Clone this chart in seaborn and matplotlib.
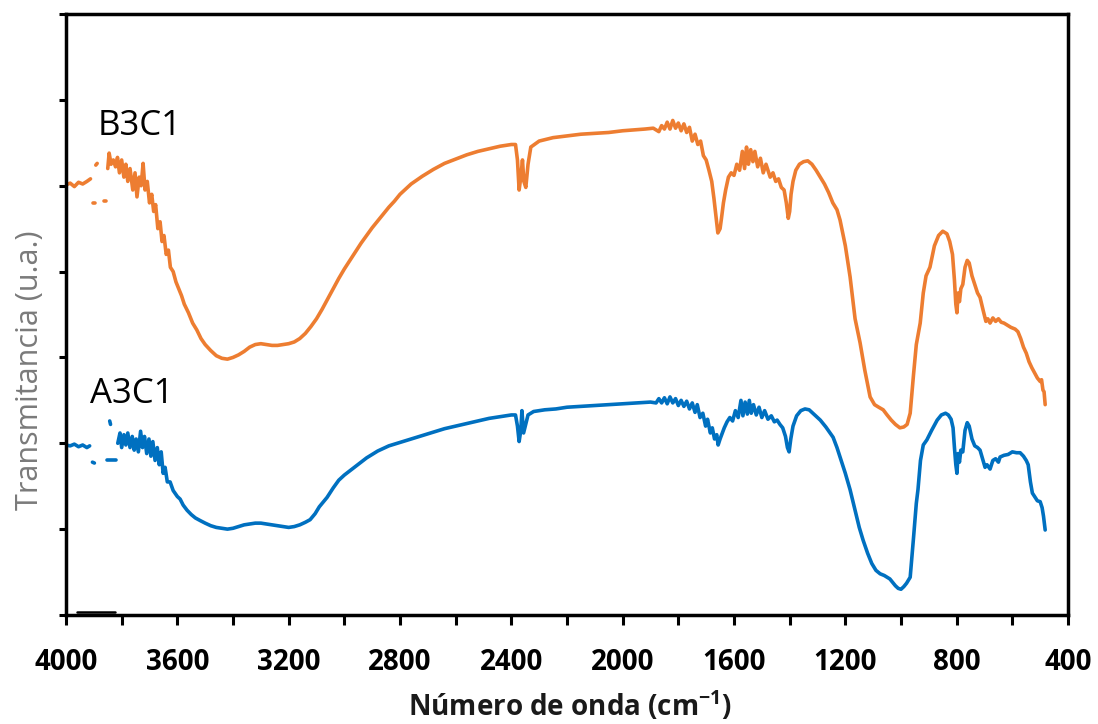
import numpy as np
import pandas as pd
import matplotlib
matplotlib.use("Agg")
import matplotlib.pyplot as plt
import seaborn as sns

# ---------------- data ----------------
# B3C1 (orange) -- segments separated by gaps in the recorded trace
b3c1_seg1_x = [4000, 3985, 3970, 3955, 3940, 3925, 3912]
b3c1_seg1_y = [5.01, 5.03, 4.99, 5.04, 5.02, 5.05, 5.08]
b3c1_seg2_x = [3902, 3896]
b3c1_seg2_y = [4.80, 4.80]
b3c1_seg3_x = [3893, 3888]
b3c1_seg3_y = [5.24, 5.26]
b3c1_seg4_x = [3864, 3858]
b3c1_seg4_y = [4.82, 4.82]
b3c1_main_x = [3850, 3845, 3838, 3830, 3822, 3815, 3808, 3800, 3792, 3785, 3778, 3770,
               3760, 3752, 3745, 3737, 3730, 3723, 3716, 3708, 3700, 3692, 3685, 3678,
               3670, 3662, 3655, 3648, 3640, 3632, 3625, 3615, 3605, 3595, 3585, 3575,
               3560, 3545, 3530, 3515, 3500, 3480, 3460, 3440, 3420, 3400, 3380, 3360,
               3340, 3320, 3300, 3280, 3260, 3240, 3220, 3200, 3180, 3160, 3140, 3120,
               3100, 3080, 3060, 3040, 3020, 3000, 2980, 2960, 2940, 2920, 2900, 2880,
               2860, 2840, 2820, 2800, 2760, 2720, 2680, 2640, 2600, 2560, 2520, 2480,
               2440, 2400, 2385, 2378, 2372, 2366, 2360, 2355, 2348, 2340, 2330, 2300,
               2250, 2200, 2150, 2100, 2050, 2000, 1960, 1920, 1890, 1870, 1860, 1850,
               1840, 1830, 1820, 1810, 1800, 1790, 1780, 1770, 1760, 1750, 1740, 1730,
               1720, 1710, 1700, 1690, 1680, 1672, 1665, 1658, 1650, 1645, 1638, 1630,
               1620, 1610, 1600, 1590, 1580, 1570, 1562, 1555, 1548, 1540, 1532, 1525,
               1515, 1505, 1495, 1485, 1470, 1460, 1450, 1440, 1430, 1420, 1412, 1405,
               1400, 1395, 1388, 1378, 1365, 1350, 1335, 1320, 1305, 1290, 1275, 1260,
               1245, 1230, 1219, 1200, 1183, 1165, 1147, 1130, 1111, 1095, 1080, 1064,
               1050, 1035, 1020, 1004, 990, 978, 967, 955, 945, 931, 920, 910,
               896, 880, 865, 850, 835, 825, 815, 808, 803, 799, 795, 790,
               785, 778, 770, 762, 755, 745, 735, 725, 716, 705, 695, 688,
               680, 670, 660, 650, 640, 630, 620, 605, 590, 580, 570, 560,
               550, 540, 530, 520, 510, 500, 495, 490, 486, 482]
b3c1_main_y = [5.20, 5.38, 5.25, 5.30, 5.22, 5.33, 5.15, 5.30, 5.10, 5.25, 5.05, 5.20,
               4.95, 5.15, 4.87, 5.10, 5.00, 5.26, 4.95, 5.05, 4.80, 4.90, 4.70, 4.78,
               4.50, 4.58, 4.35, 4.42, 4.20, 4.25, 4.05, 4.00, 3.88, 3.80, 3.72, 3.62,
               3.52, 3.40, 3.32, 3.22, 3.15, 3.08, 3.02, 2.99, 2.98, 3.00, 3.03, 3.07,
               3.12, 3.15, 3.16, 3.15, 3.14, 3.14, 3.15, 3.16, 3.18, 3.22, 3.28, 3.36,
               3.45, 3.56, 3.68, 3.80, 3.92, 4.03, 4.13, 4.23, 4.33, 4.42, 4.51, 4.59,
               4.67, 4.75, 4.82, 4.90, 5.02, 5.11, 5.19, 5.26, 5.31, 5.36, 5.40, 5.43,
               5.46, 5.48, 5.48, 5.30, 4.95, 5.10, 5.30, 5.05, 4.98, 5.25, 5.45, 5.52,
               5.56, 5.58, 5.60, 5.61, 5.62, 5.64, 5.65, 5.66, 5.67, 5.63, 5.70, 5.66,
               5.74, 5.66, 5.76, 5.67, 5.73, 5.64, 5.72, 5.62, 5.68, 5.52, 5.60, 5.48,
               5.52, 5.35, 5.30, 5.18, 5.05, 4.85, 4.65, 4.45, 4.50, 4.62, 4.80, 4.95,
               5.10, 5.15, 5.12, 5.25, 5.18, 5.40, 5.20, 5.45, 5.25, 5.42, 5.28, 5.40,
               5.22, 5.32, 5.15, 5.25, 5.10, 5.15, 5.05, 5.08, 4.98, 4.95, 4.80, 4.62,
               4.70, 4.90, 5.05, 5.18, 5.25, 5.28, 5.29, 5.25, 5.18, 5.10, 5.02, 4.92,
               4.80, 4.72, 4.60, 4.30, 3.94, 3.45, 3.17, 2.85, 2.54, 2.45, 2.42, 2.39,
               2.33, 2.27, 2.22, 2.18, 2.19, 2.22, 2.35, 2.80, 3.15, 3.40, 3.75, 3.95,
               4.05, 4.30, 4.42, 4.47, 4.44, 4.35, 4.20, 3.90, 3.62, 3.52, 3.75, 3.65,
               3.80, 3.85, 4.05, 4.13, 4.10, 3.95, 3.85, 3.75, 3.70, 3.55, 3.42, 3.45,
               3.40, 3.46, 3.42, 3.45, 3.41, 3.40, 3.38, 3.35, 3.33, 3.30, 3.22, 3.12,
               3.05, 2.95, 2.88, 2.82, 2.76, 2.72, 2.74, 2.62, 2.60, 2.45]

# A3C1 (blue)
a3c1_seg1_x = [4000, 3985, 3970, 3955, 3940, 3925, 3915]
a3c1_seg1_y = [1.98, 1.97, 1.99, 1.96, 1.98, 1.95, 1.97]
a3c1_seg2_x = [3905, 3898]
a3c1_seg2_y = [1.78, 1.77]
a3c1_seg3_x = [3852, 3822]
a3c1_seg3_y = [1.80, 1.80]
a3c1_seg4_x = [3843, 3840]
a3c1_seg4_y = [2.26, 2.22]
a3c1_main_x = [3814, 3806, 3800, 3792, 3785, 3778, 3770, 3762, 3755, 3748, 3740, 3732,
               3725, 3718, 3710, 3702, 3695, 3688, 3680, 3672, 3665, 3658, 3651, 3644,
               3636, 3626, 3615, 3600, 3590, 3579, 3565, 3550, 3535, 3518, 3500, 3480,
               3460, 3440, 3420, 3400, 3380, 3360, 3340, 3320, 3300, 3280, 3260, 3240,
               3220, 3200, 3180, 3160, 3140, 3123, 3105, 3090, 3075, 3062, 3040, 3020,
               3000, 2980, 2960, 2940, 2920, 2900, 2880, 2860, 2840, 2820, 2800, 2760,
               2720, 2680, 2640, 2600, 2560, 2520, 2480, 2440, 2400, 2385, 2378, 2372,
               2366, 2362, 2356, 2350, 2340, 2320, 2280, 2240, 2200, 2150, 2100, 2050,
               2000, 1950, 1900, 1880, 1870, 1860, 1850, 1840, 1830, 1820, 1810, 1800,
               1790, 1780, 1770, 1760, 1750, 1740, 1732, 1722, 1712, 1702, 1695, 1685,
               1678, 1670, 1662, 1657, 1650, 1642, 1635, 1625, 1615, 1605, 1595, 1585,
               1575, 1568, 1560, 1552, 1545, 1538, 1530, 1520, 1510, 1500, 1490, 1478,
               1466, 1455, 1445, 1435, 1425, 1415, 1408, 1402, 1396, 1388, 1375, 1360,
               1345, 1330, 1310, 1290, 1270, 1255, 1244, 1230, 1215, 1200, 1183, 1165,
               1150, 1136, 1120, 1105, 1090, 1075, 1060, 1050, 1040, 1030, 1020, 1010,
               1000, 990, 980, 967, 955, 945, 939, 930, 920, 907, 890, 870,
               855, 840, 830, 820, 813, 808, 803, 799, 795, 790, 785, 778,
               770, 762, 755, 745, 735, 725, 716, 705, 698, 691, 680, 670,
               660, 650, 644, 630, 615, 600, 585, 572, 560, 550, 543, 535,
               528, 520, 510, 500, 493, 488, 484, 482]
a3c1_main_y = [2.00, 2.12, 1.95, 2.10, 1.98, 2.12, 1.95, 2.08, 1.92, 2.05, 1.90, 2.14,
               1.95, 2.08, 1.88, 2.05, 1.85, 2.02, 1.80, 1.95, 1.75, 1.90, 1.65, 1.72,
               1.55, 1.55, 1.45, 1.38, 1.35, 1.28, 1.22, 1.17, 1.13, 1.10, 1.07, 1.04,
               1.02, 1.01, 1.00, 1.01, 1.03, 1.05, 1.06, 1.07, 1.07, 1.06, 1.05, 1.04,
               1.03, 1.02, 1.03, 1.05, 1.08, 1.11, 1.18, 1.26, 1.32, 1.37, 1.48, 1.57,
               1.63, 1.68, 1.73, 1.78, 1.83, 1.87, 1.91, 1.94, 1.97, 1.99, 2.01, 2.05,
               2.09, 2.13, 2.17, 2.20, 2.23, 2.26, 2.29, 2.31, 2.33, 2.33, 2.20, 2.02,
               2.15, 2.38, 2.12, 2.20, 2.33, 2.37, 2.39, 2.40, 2.42, 2.43, 2.44, 2.45,
               2.46, 2.47, 2.48, 2.47, 2.52, 2.47, 2.53, 2.46, 2.54, 2.47, 2.52, 2.44,
               2.50, 2.43, 2.49, 2.40, 2.47, 2.36, 2.45, 2.30, 2.35, 2.20, 2.28, 2.12,
               2.18, 2.05, 2.10, 1.98, 2.05, 2.12, 2.18, 2.25, 2.30, 2.26, 2.38, 2.30,
               2.50, 2.32, 2.48, 2.34, 2.50, 2.35, 2.45, 2.33, 2.42, 2.30, 2.38, 2.28,
               2.32, 2.25, 2.27, 2.22, 2.18, 2.08, 1.95, 1.90, 2.05, 2.20, 2.32, 2.38,
               2.40, 2.39, 2.33, 2.27, 2.19, 2.12, 2.07, 1.95, 1.80, 1.65, 1.46, 1.22,
               1.02, 0.87, 0.72, 0.60, 0.52, 0.48, 0.46, 0.44, 0.42, 0.38, 0.34, 0.31,
               0.30, 0.33, 0.37, 0.44, 0.90, 1.30, 1.46, 1.80, 1.98, 2.04, 2.15, 2.27,
               2.33, 2.35, 2.33, 2.28, 2.18, 1.95, 1.75, 1.65, 1.88, 1.78, 1.92, 1.90,
               2.15, 2.24, 2.20, 2.05, 1.97, 1.95, 1.92, 1.80, 1.72, 1.75, 1.70, 1.80,
               1.82, 1.78, 1.84, 1.86, 1.87, 1.90, 1.89, 1.89, 1.85, 1.80, 1.75, 1.55,
               1.42, 1.38, 1.33, 1.32, 1.25, 1.15, 1.05, 0.99]

# short black baseline trace at lower left
base_x = [3960, 3825]
base_y = [0.035, 0.035]

x_ticks = list(range(4000, 399, -200))
x_ticklabels = [str(v) if v % 400 == 0 else "" for v in x_ticks]
y_ticks = [0, 1, 2, 3, 4, 5, 6, 7]
sample_labels = ["B3C1", "A3C1"]
colors = {"B3C1": "#ED7D31", "A3C1": "#0070C0"}

# ---------------- build table ----------------
rows = []
def add(xs, ys, sample, seg):
    for xv, yv in zip(xs, ys):
        rows.append({"wn": xv, "T": yv, "sample": sample, "seg": seg})

add(b3c1_seg1_x, b3c1_seg1_y, "B3C1", "b1")
add(b3c1_seg2_x, b3c1_seg2_y, "B3C1", "b2")
add(b3c1_seg3_x, b3c1_seg3_y, "B3C1", "b3")
add(b3c1_seg4_x, b3c1_seg4_y, "B3C1", "b4")
add(b3c1_main_x, b3c1_main_y, "B3C1", "b5")
add(a3c1_seg1_x, a3c1_seg1_y, "A3C1", "a1")
add(a3c1_seg2_x, a3c1_seg2_y, "A3C1", "a2")
add(a3c1_seg3_x, a3c1_seg3_y, "A3C1", "a3")
add(a3c1_seg4_x, a3c1_seg4_y, "A3C1", "a4")
add(a3c1_main_x, a3c1_main_y, "A3C1", "a5")
df = pd.DataFrame(rows)
df_base = pd.DataFrame({"wn": base_x, "T": base_y})

# ---------------- plot ----------------
sns.set_theme(style="white")
FONT = ["Open Sans", "DejaVu Sans"]
plt.rcParams["font.family"] = FONT
plt.rcParams["mathtext.fontset"] = "custom"
plt.rcParams["mathtext.rm"] = "Open Sans"
plt.rcParams["mathtext.bf"] = "Open Sans:bold"
plt.rcParams["mathtext.default"] = "regular"

W, H = 1098, 724
fig = plt.figure(figsize=(W / 100, H / 100), dpi=100)
ax = fig.add_axes([66 / W, 1 - 615 / H, (1068 - 66) / W, (615 - 14) / H])

sns.lineplot(data=df, x="wn", y="T", hue="sample", units="seg", estimator=None,
             sort=False, palette=colors, linewidth=2.6, legend=False, ax=ax)
sns.lineplot(data=df_base, x="wn", y="T", color="black", linewidth=1.8,
             estimator=None, sort=False, legend=False, ax=ax)

ax.set_xlim(4000, 400)
ax.set_ylim(0, 7)
ax.set_xticks(x_ticks)
ax.set_xticklabels(x_ticklabels, fontsize=20, fontweight="bold", color="black")
ax.set_yticks(y_ticks)
ax.set_yticklabels([])
ax.tick_params(axis="x", direction="out", length=7.5, width=2.2, color="black",
               bottom=True, pad=16)
ax.tick_params(axis="y", direction="out", length=5, width=2.2, color="black",
               left=True)

for s in ax.spines.values():
    s.set_visible(True)
    s.set_color("black")
    s.set_linewidth(2.5)

ax.set_xlabel("")
ax.set_ylabel("")
fig.text(570 / W, 1 - 706 / H, "Número de onda (cm$^{\\mathbf{-1}}$)", fontsize=20,
         fontweight="bold", color="#1a1a1a", ha="center", va="center")
fig.text(30 / W, 1 - 370 / H, "Transmitancia (u.a.)", fontsize=22, color="#7a7a7a",
         rotation=90, ha="center", va="center")

ax.text(3885, 5.59, sample_labels[0], fontsize=25, ha="left", va="baseline", color="black")
ax.text(3914, 2.47, sample_labels[1], fontsize=25, ha="left", va="baseline", color="black")

fig.savefig("out.png", dpi=100, facecolor="white")
